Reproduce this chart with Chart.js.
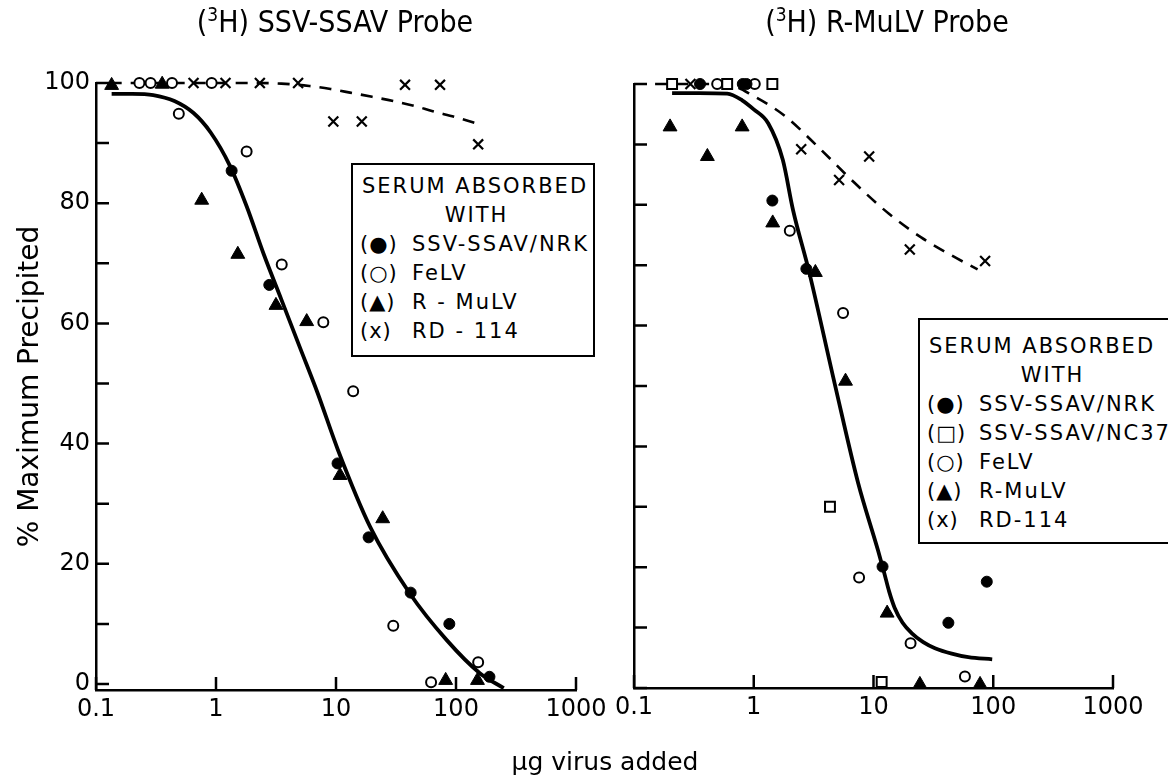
<!DOCTYPE html>
<html>
<head>
<meta charset="utf-8">
<script src="https://cdn.jsdelivr.net/npm/chart.js@4.4.1/dist/chart.umd.min.js"></script>
<style>
  html, body { margin: 0; padding: 0; background: #fff; }
  #page { position: relative; width: 1168px; height: 780px; overflow: hidden; color: #000; font-family: "DejaVu Sans", sans-serif; }
  canvas { position: absolute; top: 0; }
  #leftChart { left: 0; }
  #rightChart { left: 600px; }
  .panel-title { position: absolute; top: 4px; transform: translateX(-50%); white-space: nowrap;
    font-family: "DejaVu Sans Condensed", "Liberation Sans Narrow", "DejaVu Sans", sans-serif; font-stretch: condensed; font-size: 30px; }
  .panel-title sup { font-size: 19px; vertical-align: 11px; line-height: 0; }
  #xTitle { position: absolute; left: 605px; top: 747px; transform: translateX(-50%); font-size: 25px; white-space: nowrap; }
  .legend-box { position: absolute; border: 2.5px solid #000; background: #fff; box-sizing: border-box;
    font-size: 21px; letter-spacing: 2px; z-index: 2; white-space: nowrap; }
  .legend-box div { height: 29px; line-height: 29px; }
  .legend-box .center { text-align: center; }
  .legend-box .sym { display: inline-block; width: 52px; letter-spacing: 1px; }
</style>
</head>
<body>
<div id="page">
  <canvas id="leftChart" width="640" height="780"></canvas>
  <canvas id="rightChart" width="568" height="780"></canvas>
  <div class="panel-title" style="left:335px">(<sup>3</sup>H) SSV-SSAV Probe</div>
  <div class="panel-title" style="left:887px">(<sup>3</sup>H) R-MuLV Probe</div>
  <div id="xTitle">&mu;g virus added</div>
  <div class="legend-box" id="legendLeft" style="left:351px; top:163px; width:244px; height:194px; padding:7px 0 0 7px;"></div>
  <div class="legend-box" id="legendRight" style="left:918px; top:318px; width:262px; height:226px; padding:12px 0 0 7px;"></div>
</div>
<script>
// axes
const xTickValues = [0.1, 1, 10, 100, 1000];
const xTickLabels = ["0.1", "1", "10", "100", "1000"];
const yTickValues = [0, 10, 20, 30, 40, 50, 60, 70, 80, 90, 100];
const yTickLabelsLeft = ["0", "", "20", "", "40", "", "60", "", "80", "", "100"];

// left panel: (3H) SSV-SSAV probe
const leftNrkDose = [1.35, 2.78, 10.3, 18.7, 41.9, 88, 190];
const leftNrkPct = [85.4, 66.4, 36.7, 24.4, 15.2, 10.0, 1.2];
const leftFelvDose = [0.23, 0.285, 0.43, 0.92, 0.49, 1.8, 3.53, 7.84, 13.9, 30, 62, 153];
const leftFelvPct = [100, 100, 100, 100, 94.9, 88.6, 69.8, 60.2, 48.7, 9.7, 0.3, 3.6];
const leftRmulvDose = [0.135, 0.356, 0.76, 1.52, 3.16, 5.7, 10.8, 24.5, 82, 151];
const leftRmulvPct = [99.6, 99.8, 80.5, 71.5, 63, 60.3, 34.7, 27.5, 0.6, 0.6];
const leftRd114Dose = [0.65, 1.2, 2.32, 4.83, 9.5, 16.4, 37.6, 73.6, 153];
const leftRd114Pct = [100, 100, 100, 100, 93.6, 93.6, 99.7, 99.7, 89.8];
const leftFitDose = [0.135, 0.2, 0.3, 0.45, 0.65, 0.9, 1.3, 1.8, 2.5, 3.5, 5, 7, 10.4, 19.3, 41.1, 83.7, 158, 250];
const leftFitPct = [98.2, 98.2, 98.0, 97.0, 95.0, 91.8, 86.3, 79.5, 71.5, 64, 56, 48.5, 38.9, 26.1, 15.1, 7.3, 1.8, -0.7];
const leftDashDose = [0.13, 0.5, 1, 2, 3.5, 6, 9, 13.1, 20, 30, 45, 64, 100, 158];
const leftDashPct = [100, 100, 100, 100, 99.9, 99.5, 99.0, 98.4, 97.7, 97.0, 96.2, 95.3, 94.3, 93.1];

// right panel: (3H) R-MuLV probe
const rightNrkDose = [0.356, 0.81, 0.87, 1.43, 2.75, 11.9, 42.2, 88.3];
const rightNrkPct = [100, 100, 100, 80.7, 69.4, 20.1, 10.8, 17.6];
const rightNc37Dose = [0.208, 0.6, 1.43, 4.33, 11.7];
const rightNc37Pct = [100, 100, 100, 30.0, 1.0];
const rightFelvDose = [0.495, 1.02, 2.0, 5.57, 7.58, 20.4, 58];
const rightFelvPct = [100, 100, 75.7, 62.1, 18.3, 7.4, 1.9];
const rightRmulvDose = [0.2, 0.41, 0.8, 1.44, 3.27, 5.84, 13.0, 24.4, 77.6];
const rightRmulvPct = [92.9, 88.0, 92.9, 77.0, 68.8, 50.8, 12.4, 0.6, 0.6];
const rightRd114Dose = [0.296, 2.49, 5.16, 9.2, 20.1, 85.5];
const rightRd114Pct = [100, 89.2, 84.1, 88.0, 72.6, 70.7];
const rightFitDose = [0.208, 0.35, 0.6, 0.8, 1.0, 1.32, 1.75, 2.13, 2.9, 4.74, 7.45, 10.9, 12.2, 13.5, 15, 17.5, 20.8, 26, 32.6, 45, 62, 98];
const rightFitPct = [98.5, 98.5, 98.4, 97.3, 95.8, 93.5, 87.4, 79.1, 68.9, 50.4, 33.9, 22.8, 19.3, 16.0, 13.3, 10.8, 9.1, 7.6, 6.6, 5.7, 5.1, 4.75];
const rightDashDose = [0.15, 0.5, 0.7, 1.0, 1.4, 1.93, 3.44, 6.98, 13.3, 25, 45, 74];
const rightDashPct = [100, 100, 99.6, 98.0, 96.3, 94.3, 89.6, 83.6, 78.6, 74.6, 71.6, 69.3];

const leftLegend = [["(●)", "SSV-SSAV/NRK"], ["(○)", "FeLV"], ["(▲)", "R - MuLV"], ["(x)", "RD - 114"]];
const rightLegend = [["(●)", "SSV-SSAV/NRK"], ["(□)", "SSV-SSAV/NC37"], ["(○)", "FeLV"], ["(▲)", "R-MuLV"], ["(x)", "RD-114"]];

Chart.defaults.font.family = '"DejaVu Sans", sans-serif';
Chart.defaults.color = "#000";

function pairs(xs, ys) {
  return xs.map(function (x, i) { return { x: x, y: ys[i] }; });
}

function pointSet(label, xs, ys, style) {
  const base = { type: "scatter", label: label, data: pairs(xs, ys), clip: false, order: 1, showLine: false };
  if (style === "filled") {
    return Object.assign(base, { pointStyle: "circle", pointRadius: 5.5, backgroundColor: "#000", borderColor: "#000", borderWidth: 1 });
  }
  if (style === "open") {
    return Object.assign(base, { pointStyle: "circle", pointRadius: 5, backgroundColor: "#fff", borderColor: "#000", borderWidth: 2 });
  }
  if (style === "triangle") {
    return Object.assign(base, { pointStyle: "triangle", pointRadius: 8, backgroundColor: "#000", borderColor: "#000", borderWidth: 1 });
  }
  if (style === "square") {
    return Object.assign(base, { pointStyle: "rect", pointRadius: 7, backgroundColor: "#fff", borderColor: "#000", borderWidth: 2 });
  }
  return Object.assign(base, { pointStyle: "crossRot", pointRadius: 7, backgroundColor: "#000", borderColor: "#000", borderWidth: 2.2 });
}

function curveSet(label, xs, ys, dashed) {
  return {
    type: "line", label: label, data: pairs(xs, ys), clip: false, order: 2,
    borderColor: "#000", borderWidth: dashed ? 2.6 : 3.8, borderDash: dashed ? [12, 9] : [],
    pointRadius: 0, cubicInterpolationMode: "monotone", fill: false
  };
}

const inwardTicks = {
  id: "inwardTicks",
  beforeDatasetsDraw(chart) {
    const ctx = chart.ctx;
    const area = chart.chartArea;
    const xs = chart.scales.x;
    const ys = chart.scales.y;
    ctx.save();
    ctx.strokeStyle = "#000";
    ctx.lineWidth = 2.5;
    ctx.beginPath();
    xs.ticks.forEach(function (tick) {
      const px = xs.getPixelForValue(tick.value);
      ctx.moveTo(px, area.bottom);
      ctx.lineTo(px, area.bottom - 13);
    });
    ys.ticks.forEach(function (tick) {
      const py = ys.getPixelForValue(tick.value);
      ctx.moveTo(area.left, py);
      ctx.lineTo(area.left + 13, py);
    });
    ctx.stroke();
    ctx.restore();
  }
};

function makeChart(canvasId, datasets, opts) {
  return new Chart(document.getElementById(canvasId), {
    data: { datasets: datasets },
    plugins: [inwardTicks],
    options: {
      responsive: false,
      animation: false,
      devicePixelRatio: 1,
      layout: { padding: { left: 0, right: opts.padRight, top: opts.top, bottom: 0 } },
      plugins: { legend: { display: false }, tooltip: { enabled: false } },
      scales: {
        x: {
          type: "logarithmic", min: 0.1, max: 1000,
          afterBuildTicks: function (scale) {
            scale.ticks = xTickValues.map(function (v) { return { value: v }; });
          },
          afterFit: function (scale) { scale.height = opts.xHeight; },
          grid: { display: false, drawTicks: false, tickLength: 0 },
          border: { display: true, color: "#000", width: 2.5 },
          ticks: {
            autoSkip: false, maxRotation: 0, padding: 5,
            font: { size: 24 }, color: "#000",
            callback: function (value, index) { return xTickLabels[index]; }
          }
        },
        y: {
          min: opts.yMin, max: 100,
          afterBuildTicks: function (scale) {
            scale.ticks = yTickValues.map(function (v) { return { value: v }; });
          },
          afterFit: function (scale) { scale.width = opts.yWidth; },
          grid: { display: false, drawTicks: false, tickLength: 0 },
          border: { display: true, color: "#000", width: 2.5 },
          ticks: {
            autoSkip: false, padding: 6, font: { size: 24 }, color: "#000",
            callback: function (value, index) { return opts.yLabels ? opts.yLabels[index] : ""; }
          },
          title: opts.yTitle ? {
            display: true, text: opts.yTitle, color: "#000",
            font: { size: 28 }, padding: { top: 14, bottom: 0 }
          } : { display: false }
        }
      }
    }
  });
}

makeChart("leftChart", [
  curveSet("SSV-SSAV fit", leftFitDose, leftFitPct, false),
  curveSet("RD-114 fit", leftDashDose, leftDashPct, true),
  pointSet("SSV-SSAV/NRK", leftNrkDose, leftNrkPct, "filled"),
  pointSet("FeLV", leftFelvDose, leftFelvPct, "open"),
  pointSet("R-MuLV", leftRmulvDose, leftRmulvPct, "triangle"),
  pointSet("RD-114", leftRd114Dose, leftRd114Pct, "cross")
], { padRight: 64, top: 83, xHeight: 90, yWidth: 96, yMin: -1, yLabels: yTickLabelsLeft, yTitle: "% Maximum Precipited" });

makeChart("rightChart", [
  curveSet("R-MuLV fit", rightFitDose, rightFitPct, false),
  curveSet("RD-114 fit", rightDashDose, rightDashPct, true),
  pointSet("SSV-SSAV/NRK", rightNrkDose, rightNrkPct, "filled"),
  pointSet("SSV-SSAV/NC37", rightNc37Dose, rightNc37Pct, "square"),
  pointSet("FeLV", rightFelvDose, rightFelvPct, "open"),
  pointSet("R-MuLV", rightRmulvDose, rightRmulvPct, "triangle"),
  pointSet("RD-114", rightRd114Dose, rightRd114Pct, "cross")
], { padRight: 55, top: 84, xHeight: 92, yWidth: 34, yMin: 0, yLabels: null, yTitle: null });

function fillLegend(boxId, rows) {
  const box = document.getElementById(boxId);
  box.innerHTML = '<div style="padding-left:2px">SERUM ABSORBED</div><div class="center">WITH</div>' +
    rows.map(function (row) {
      return '<div><span class="sym">' + row[0] + '</span>' + row[1] + '</div>';
    }).join("");
}
fillLegend("legendLeft", leftLegend);
fillLegend("legendRight", rightLegend);
</script>
</body>
</html>
